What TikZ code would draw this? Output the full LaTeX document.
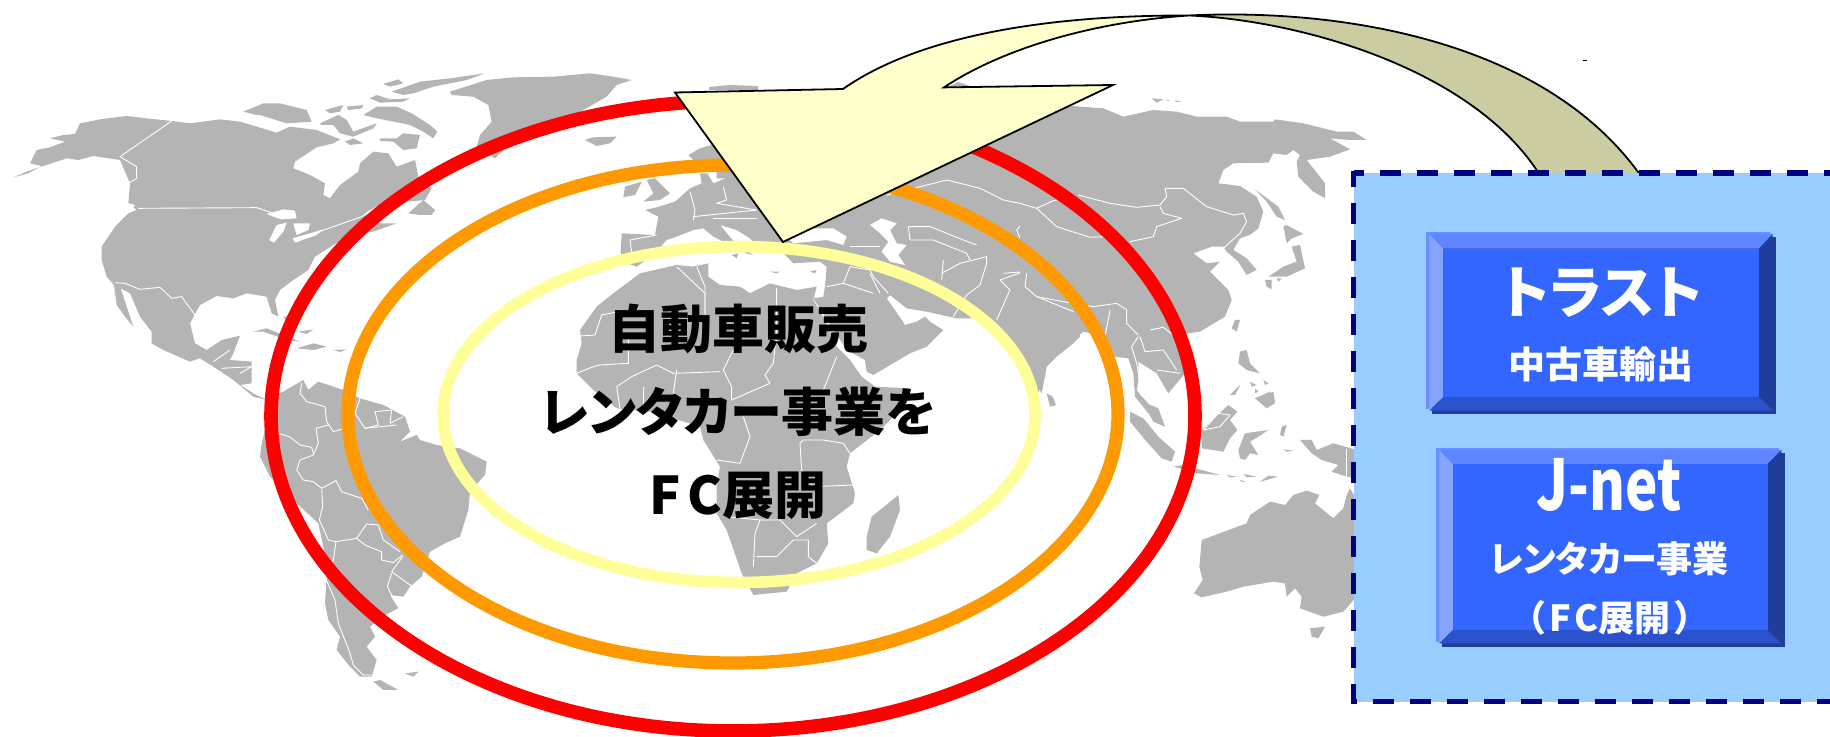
\documentclass[tikz,border=0pt]{standalone}
\usepackage{fontspec}
\setmainfont{Liberation Sans}
\newfontfamily\jp[RawFeature={+palt}]{Noto Sans CJK JP}
\definecolor{landgrey}{HTML}{B4B4B4}
\definecolor{ringred}{HTML}{FF0000}
\definecolor{ringorange}{HTML}{FF9900}
\definecolor{ringyellow}{HTML}{FFFF99}
\definecolor{arrowfront}{HTML}{FFFFCC}
\definecolor{arrowback}{HTML}{CCCCA3}
\definecolor{panelblue}{HTML}{99CCFF}
\definecolor{navy}{HTML}{000080}
\definecolor{bvface}{HTML}{3366FF}
\definecolor{bvtop}{HTML}{5C85FF}
\definecolor{bvleft}{HTML}{85A3FF}
\definecolor{bvright}{HTML}{1F3D99}
\definecolor{bvbottom}{HTML}{2952CC}
\definecolor{bvhalo}{HTML}{6B8FFF}
\tikzset{
  land/.style={fill=landgrey},
  border/.style={draw=white,line width=0.45pt,line join=round},
  sea/.style={fill=white},
  arrowline/.style={draw=black,line width=0.9pt,line join=miter},
  dashedge/.style={draw=navy,line width=2.6pt,dash pattern=on 10.5pt off 8pt},
  whitetext/.style={text=white,inner sep=0pt,align=center},
  crop/.style={scale=0.33333}
}
\newcommand{\landpoly}[1]{\fill[land] plot coordinates {#1} -- cycle;}
\newcommand{\seapoly}[1]{\fill[sea] plot coordinates {#1} -- cycle;}
\newcommand{\bline}[1]{\draw[border] plot coordinates {#1};}
% bevelled box, in 3x crop coordinates: outer x0 y0 x1 y1, inner x2 y2 x3 y3
\newcommand{\bevelbox}[8]{
  \fill[bvhalo] (#1-10,#2-6) rectangle (#3-8,#4-4);
  \fill[bvright] (#1+8,#2+8) rectangle (#3+10,#4+10);
  \fill[bvtop] (#1,#2) -- (#3,#2) -- (#7,#6) -- (#5,#6) -- cycle;
  \fill[bvleft] (#1,#2) -- (#5,#6) -- (#5,#8) -- (#1,#4) -- cycle;
  \fill[bvright] (#3,#2) -- (#3,#4) -- (#7,#8) -- (#7,#6) -- cycle;
  \fill[bvbottom] (#1,#4) -- (#3,#4) -- (#7,#8) -- (#5,#8) -- cycle;
  \fill[bvface] (#5,#6) rectangle (#7,#8);
}
\begin{document}
\begin{tikzpicture}[x=0.5pt,y=-0.5pt]
\useasboundingbox (0,0) rectangle (1830,737);
\fill[white] (0,0) rectangle (1830,737);

%--- North America and the Arctic (crop 0,60)
\begin{scope}[shift={(0,60)},crop]
\landpoly{(40,352)(85,340)(125,318)(90,310)(110,270)(150,262)(195,245)(150,235)(190,225)(225,222)(240,190)(300,178)(380,168)(440,175)(515,183)(570,190)(660,178)(720,185)(770,200)(830,218)(870,200)(950,210)(1020,238)(1000,250)(950,262)(885,305)(880,325)(930,345)(975,370)(970,405)(990,415)(1020,375)(1075,335)(1080,310)(1120,275)(1165,280)(1190,320)(1245,300)(1255,350)(1295,385)(1275,420)(1225,425)(1175,425)(1100,455)(1090,490)(1190,490)(1120,515)(1060,520)(1000,555)(945,590)(925,630)(880,660)(840,690)(825,720)(835,770)(815,760)(800,710)(740,700)(700,715)(650,708)(600,735)(570,790)(585,850)(620,870)(665,840)(720,827)(700,880)(690,900)(755,905)(755,970)(720,975)(760,1000)(800,1020)(760,1010)(700,960)(640,920)(600,895)(570,905)(490,870)(455,850)(455,815)(420,770)(390,700)(362,685)(380,740)(400,800)(375,770)(350,735)(342,675)(320,650)(305,600)(305,560)(345,500)(385,460)(410,450)(385,430)(390,370)(360,300)(280,288)(235,300)(200,295)(130,318)(80,335)}
\seapoly{(800,462)(850,448)(885,452)(890,475)(845,478)(820,470)}
\seapoly{(808,540)(830,495)(860,488)(850,515)(822,548)}
\seapoly{(880,490)(930,490)(925,510)(890,525)}
\seapoly{(878,535)(930,520)(970,508)(950,525)(885,548)}
\seapoly{(368,425)(405,435)(395,448)}
\landpoly{(1090,165)(1130,140)(1190,140)(1235,160)(1290,195)(1312,215)(1300,235)(1270,215)(1230,195)(1180,185)(1130,175)}
\landpoly{(730,155)(790,130)(840,130)(920,150)(935,185)(860,190)(780,165)(770,165)}
\landpoly{(975,150)(1030,135)(1020,155)(990,160)}
\landpoly{(1040,140)(1090,135)(1085,145)(1045,150)}
\landpoly{(960,190)(1015,165)(1040,180)(1060,215)(1130,190)(1120,205)(1060,230)(1020,220)(1000,195)(965,195)}
\landpoly{(1035,245)(1060,235)(1090,250)(1050,255)}
\landpoly{(1140,235)(1190,235)(1210,220)(1260,225)(1250,265)(1210,270)(1180,245)(1140,243)}
\landpoly{(1150,72)(1195,58)(1210,70)(1170,80)}
\landpoly{(1175,95)(1260,65)(1350,55)(1455,40)(1400,60)(1300,80)(1240,100)(1210,105)}
\landpoly{(1110,115)(1130,105)(1170,118)(1230,115)(1210,125)(1140,128)}
\landpoly{(760,815)(800,805)(850,825)(900,845)(860,840)(790,815)}
\landpoly{(890,865)(940,850)(980,860)(940,870)}
\landpoly{(1000,870)(1040,868)(1020,876)}
\landpoly{(895,815)(940,808)(920,822)}
\landpoly{(850,770)(865,770)(858,780)}
\bline{(515,183)(360,290)(410,320)(410,355)(385,370)}
\bline{(415,445)(770,443)(820,460)}
\bline{(930,525)(1000,500)(1085,470)(1130,440)}
\bline{(345,668)(375,670)(420,688)(480,682)(515,715)(545,710)(585,765)}
\bline{(640,905)(690,870)}
\bline{(665,925)(755,920)(720,940)}
\bline{(760,1000)(765,990)}
\end{scope}

%--- Greenland, Iceland, British Isles, Scandinavia, Newfoundland (crop 380,60)
\begin{scope}[shift={(380,60)},crop]
\landpoly{(210,95)(320,60)(400,52)(520,50)(630,40)(700,50)(755,60)(710,75)(680,110)(610,150)(370,270)(345,295)(320,280)(290,260)(300,225)(335,185)(325,135)(280,110)(215,105)}
\landpoly{(85,460)(130,420)(165,450)(155,465)(120,465)}
\landpoly{(615,240)(640,232)(710,230)(690,250)(650,258)}
\landpoly{(800,360)(825,355)(870,400)(840,420)(790,425)(820,400)}
\landpoly{(735,380)(785,365)(765,405)(730,412)}
\landpoly{(925,285)(960,265)(1010,250)(1050,320)(1080,365)(1040,355)(1010,355)(1010,335)(1030,310)(940,300)}
\landpoly{(965,340)(985,340)(975,370)}
\end{scope}

%--- South America (crop 250,360)
\begin{scope}[shift={(250,360)},crop]
\landpoly{(45,115)(100,95)(125,80)(160,60)(175,90)(205,65)(280,90)(330,115)(400,135)(465,170)(480,215)(450,245)(500,225)(510,240)(560,255)(630,265)(710,305)(705,345)(660,395)(655,450)(630,530)(585,550)(540,575)(515,650)(480,680)(460,710)(420,705)(445,745)(400,768)(360,800)(375,830)(350,860)(380,900)(365,950)(330,950)(300,920)(260,870)(270,830)(235,780)(225,730)(230,650)(220,560)(205,490)(140,430)(60,350)(30,290)(35,250)(50,190)(45,130)}
\landpoly{(370,965)(390,960)(445,990)(400,990)}
\landpoly{(465,940)(505,935)(490,950)}
\bline{(155,70)(150,100)(170,125)(225,140)(230,185)(250,215)(275,208)}
\bline{(235,195)(198,205)(205,250)(190,285)(150,300)(140,330)(160,360)(190,365)(215,385)}
\bline{(215,385)(258,362)(275,395)(335,415)(355,450)}
\bline{(215,385)(218,440)(208,480)(235,540)(258,545)}
\bline{(258,545)(320,535)(350,492)(385,495)(400,540)(450,575)}
\bline{(320,535)(345,555)(395,575)(395,600)(430,608)(458,585)}
\bline{(258,545)(250,600)(225,650)(255,720)(265,790)(300,880)(310,915)(340,945)(370,945)}
\bline{(458,590)(425,635)(490,682)}
\bline{(425,640)(412,680)(425,705)}
\bline{(85,220)(118,230)(150,255)(185,262)(190,280)}
\bline{(330,115)(315,160)(345,205)(385,195)(375,155)(425,150)(420,190)(460,170)}
\bline{(345,205)(440,195)}
\end{scope}

%--- Africa (crop 560,280)
\begin{scope}[shift={(560,280)},crop]
\landpoly{(160,40)(240,-20)(350,-45)(400,-40)(445,-50)(445,-10)(480,15)(540,20)(570,40)(630,10)(710,30)(770,20)(760,60)(790,110)(830,200)(870,240)(905,290)(945,320)(1050,325)(1040,370)(960,450)(870,520)(860,560)(885,640)(880,670)(800,730)(805,790)(770,850)(710,880)(680,935)(580,945)(545,880)(500,750)(470,700)(470,620)(480,560)(430,480)(420,440)(340,415)(270,395)(170,385)(100,330)(50,280)(50,240)(65,190)(60,150)(110,80)}
\landpoly{(1015,645)(1020,690)(990,770)(950,820)(920,810)(920,770)(935,710)(985,670)}
\bline{(60,168)(105,165)(125,105)(175,95)}
\bline{(205,165)(205,250)(120,255)}
\bline{(350,-40)(435,40)(435,110)}
\bline{(650,25)(650,150)(640,250)(615,285)(630,310)}
\bline{(520,210)(490,270)(515,320)(515,360)(630,310)}
\bline{(830,230)(790,330)}
\bline{(215,290)(290,255)(340,280)(480,275)}
\bline{(350,270)(340,340)}
\bline{(790,480)(850,490)(870,520)}
\bline{(720,490)(730,480)(790,480)}
\bline{(720,490)(725,570)(760,620)(880,615)}
\bline{(470,540)(540,550)(570,470)(550,410)}
\bline{(500,710)(600,720)(660,720)(710,770)(770,730)}
\bline{(585,760)(600,720)}
\bline{(585,760)(580,860)}
\bline{(590,830)(650,830)(700,780)(745,780)(745,830)(770,850)}
\bline{(50,280)(100,260)(120,255)}
\bline{(170,320)(180,385)}
\bline{(250,320)(250,385)}
\bline{(215,290)(170,320)}
\end{scope}

%--- Europe, Middle East, central Asia (crop 580,130)
\begin{scope}[shift={(580,130)},crop]
\landpoly{(122,370)(125,310)(225,315)(235,260)(195,240)(230,232)(285,215)(330,175)(365,160)(360,130)(385,135)(400,160)(470,130)(600,0)(1500,0)(1500,620)(1480,640)(1430,680)(1400,710)(1385,790)(1310,660)(1190,565)(1130,565)(1040,545)(980,535)(930,495)(920,505)(955,555)(975,585)(1010,575)(1035,560)(1050,575)(1090,600)(1040,650)(990,670)(880,735)(860,725)(855,690)(800,660)(700,505)(730,500)(735,470)(740,410)(720,395)(640,400)(610,370)(585,350)(540,360)(510,325)(470,300)(420,285)(470,345)(520,375)(500,370)(450,345)(400,320)(370,295)(340,300)(290,320)(260,330)(225,370)(170,410)(130,395)}
\seapoly{(625,325)(700,295)(760,295)(800,320)(790,345)(740,330)(640,340)}
\seapoly{(870,285)(905,265)(950,280)(930,300)(950,340)(980,345)(955,375)(975,405)(930,395)(905,365)(925,335)(900,310)}
\landpoly{(455,375)(475,370)(470,385)}
\landpoly{(570,425)(600,425)(590,430)}
\landpoly{(690,425)(710,420)(705,430)}
\landpoly{(1400,790)(1418,800)(1428,825)(1410,830)}
\bline{(920,195)(1100,150)(1200,175)(1270,210)(1370,230)(1310,300)(1320,325)}
\bline{(985,290)(1050,290)(1150,330)(1190,345)}
\bline{(985,290)(990,330)(1060,330)(1160,370)(1170,390)}
\bline{(1090,390)(1085,450)}
\bline{(1085,430)(1140,400)(1220,380)(1220,400)(1200,465)(1160,495)(1120,560)}
\bline{(1270,430)(1330,425)(1260,450)(1290,480)(1250,570)}
\bline{(1370,510)(1490,540)}
\bline{(870,430)(900,490)}
\bline{(810,410)(870,420)(880,440)(925,490)}
\bline{(740,470)(790,460)(880,490)}
\bline{(810,410)(790,460)}
\bline{(810,350)(900,350)}
\bline{(350,410)(375,470)(375,550)}
\bline{(590,480)(590,640)}
\bline{(330,185)(345,240)(340,270)}
\bline{(430,170)(440,210)(410,220)}
\bline{(340,260)(530,240)}
\bline{(410,220)(530,240)}
\bline{(400,265)(530,265)}
\bline{(230,315)(150,330)(155,365)}
\end{scope}

%--- East Asia (crop 1020,80)
\begin{scope}[shift={(1020,80)},crop]
\landpoly{(0,130)(156,78)(250,85)(310,110)(400,90)(470,95)(530,110)(620,110)(660,125)(760,125)(765,118)(850,130)(950,155)(1000,155)(1040,180)(990,180)(930,175)(990,208)(930,230)(860,240)(880,265)(915,310)(915,355)(880,335)(835,290)(830,245)(840,225)(820,210)(800,225)(760,220)(745,248)(640,250)(610,270)(595,310)(660,318)(710,350)(730,395)(715,445)(690,465)(660,475)(640,510)(680,535)(710,570)(680,585)(655,545)(620,515)(610,500)(575,500)(520,520)(560,550)(600,545)(570,575)(625,630)(635,660)(615,710)(540,755)(470,765)(500,830)(495,880)(445,940)(410,880)(355,845)(355,900)(350,935)(380,965)(425,1020)(385,1000)(345,950)(340,880)(325,835)(285,830)(255,770)(190,755)(160,780)(80,845)(75,890)(55,940)(20,890)(0,850)}
\landpoly{(790,440)(800,435)(850,462)(815,475)(800,490)}
\landpoly{(815,500)(840,495)(855,565)(800,590)(745,590)(790,560)(830,545)}
\landpoly{(735,600)(755,600)(755,628)(740,620)}
\landpoly{(770,595)(785,595)(775,605)}
\landpoly{(705,328)(775,380)(795,420)(770,410)(740,365)}
\landpoly{(645,720)(660,720)(650,755)(635,745)}
\landpoly{(660,815)(680,810)(690,850)(720,880)(680,870)(655,850)}
\landpoly{(705,955)(750,935)(765,970)(740,985)}
\landpoly{(630,945)(660,915)(645,945)}
\landpoly{(690,905)(710,915)(695,920)}
\landpoly{(730,900)(745,910)(735,915)}
\landpoly{(705,925)(715,935)(705,940)}
\landpoly{(395,55)(430,58)(410,68)}
\landpoly{(440,60)(448,60)(444,64)}
\landpoly{(462,62)(488,63)(470,66)}
\bline{(175,345)(270,370)(350,382)(420,375)(440,350)(435,325)(490,325)(560,380)(640,405)(670,400)(680,425)(660,460)(610,505)}
\bline{(420,380)(430,400)(485,415)(410,440)(400,470)(330,485)}
\bline{(0,370)(50,385)(110,440)(210,472)(260,470)}
\bline{(50,385)(100,362)(140,355)}
\bline{(20,580)(15,620)(50,650)(130,665)(220,680)(290,670)(320,690)(320,730)(355,765)}
\bline{(50,650)(160,695)}
\bline{(355,770)(335,800)(350,850)(360,910)}
\bline{(360,770)(375,815)(430,810)(470,870)}
\bline{(390,750)(430,742)(460,765)}
\bline{(410,870)(480,880)}
\bline{(255,770)(270,690)}
\end{scope}

%--- Islands and Australia (crop 1130,380)
\begin{scope}[shift={(1130,380)},crop]
\landpoly{(0,95)(40,115)(85,170)(135,215)(125,245)(95,235)(50,185)(0,125)}
\landpoly{(20,30)(50,70)(85,85)(105,140)(70,125)(45,80)(20,50)}
\landpoly{(215,150)(295,75)(322,95)(300,120)(322,150)(300,175)(280,215)(215,205)}
\landpoly{(345,160)(415,150)(385,170)(360,185)(385,225)(360,220)(345,240)(330,235)(325,210)}
\landpoly{(130,260)(160,255)(270,285)(200,280)}
\landpoly{(290,285)(320,290)(300,292)}
\landpoly{(340,282)(380,290)(350,292)}
\landpoly{(390,305)(415,287)(445,290)}
\landpoly{(330,300)(345,305)(335,306)}
\landpoly{(510,180)(545,180)(560,210)(610,190)(680,210)(680,295)(650,290)(605,275)(625,255)(575,240)(545,220)}
\landpoly{(455,140)(470,135)(460,170)(450,165)}
\landpoly{(460,208)(490,212)(470,215)}
\landpoly{(300,45)(330,15)(315,40)}
\landpoly{(380,55)(430,35)(435,65)(410,85)}
\landpoly{(215,480)(350,430)(360,405)(420,365)(465,375)(490,345)(530,332)(568,345)(555,370)(610,415)(640,385)(650,345)(660,325)(680,360)(680,650)(640,695)(580,710)(510,685)(515,650)(495,625)(470,650)(465,610)(430,605)(340,620)(290,635)(215,652)(192,640)(218,600)(208,560)}
\landpoly{(540,745)(585,740)(565,775)(545,770)}
\bline{(220,150)(265,100)(300,105)(270,140)(220,150)}
\bline{(650,208)(650,292)}
\end{scope}

%--- rings
\draw[line width=6.8pt,draw=ringred]    (733,416) ellipse [x radius=462,y radius=315];
\draw[line width=6.6pt,draw=ringorange] (733,414) ellipse [x radius=385,y radius=249];
\draw[line width=5.8pt,draw=ringyellow] (739,414.5) ellipse [x radius=296,y radius=168];

%--- bits of land standing just above the arrow
\fill[land] (948,87) -- (958,82) -- (970,86) -- cycle;
\fill[land] (709,87) -- (730,85) -- (758,86) -- (758,90) -- (709,90) -- cycle;

%--- far part of the curved arrow
\path[fill=arrowback,arrowline] (1189,15.5) .. controls (1340,8) and (1550,40) .. (1645,182) -- (1544,182) .. controls (1480,70) and (1300,20) .. (1189,15.5) -- cycle;

%--- near part of the curved arrow
\path[fill=arrowfront,arrowline] (675,92.5) -- (843,89) .. controls (920,35) and (1050,15) .. (1189,15.5) .. controls (1090,22) and (1000,50) .. (944,87.4) -- (1113,85) -- (783,242) -- cycle;

%--- tiny mark
\draw[black,line width=0.5pt] (1583,61) -- (1587,61);

%--- panel
\fill[panelblue] (1353.5,173) rectangle (1830,702);
\draw[dashedge,dash phase=5.3pt] (1353.5,173) -- (1835,173);
\draw[dashedge,dash phase=2.7pt] (1353.5,171) -- (1353.5,704);
\draw[dashedge,dash phase=7.7pt] (1351,701.7) -- (1835,701.7);

%--- bevelled boxes
\begin{scope}[shift={(1340,160)},crop]
\bevelbox{268}{222}{1298}{752}{310}{266}{1257}{711}
\end{scope}
\begin{scope}[shift={(1340,430)},crop]
\bevelbox{298}{60}{1324}{640}{339}{102}{1283}{600}
\end{scope}

%--- texts
\node[inner sep=0pt,align=center,font=\jp\bfseries\fontsize{26}{41.5}\selectfont] (maintext) at (738,412) {自動車販売\\レンタカー事業を\\F\kern3.5pt C展開};
\node[whitetext,font=\jp\bfseries\fontsize{28.5}{30}\selectfont] (trust) at (1602,293) {トラスト};
\node[whitetext,font=\jp\bfseries\fontsize{18.5}{20}\selectfont] (trustsub) at (1601,364) {中古車輸出};
\node[whitetext,font=\jp\bfseries\fontsize{35}{36}\selectfont] (jnet) at (1609,485) {\scalebox{0.78}[1]{J-net}};
\node[whitetext,font=\jp\bfseries\fontsize{18}{20}\selectfont] (jnetsub) at (1609,559) {レンタカー事業};
\node[whitetext,font=\jp\bfseries\fontsize{18}{20}\selectfont] (jnetfc) at (1610,618) {（\kern2pt F\kern2pt C展開\kern2pt ）};
\end{tikzpicture}
\end{document}
